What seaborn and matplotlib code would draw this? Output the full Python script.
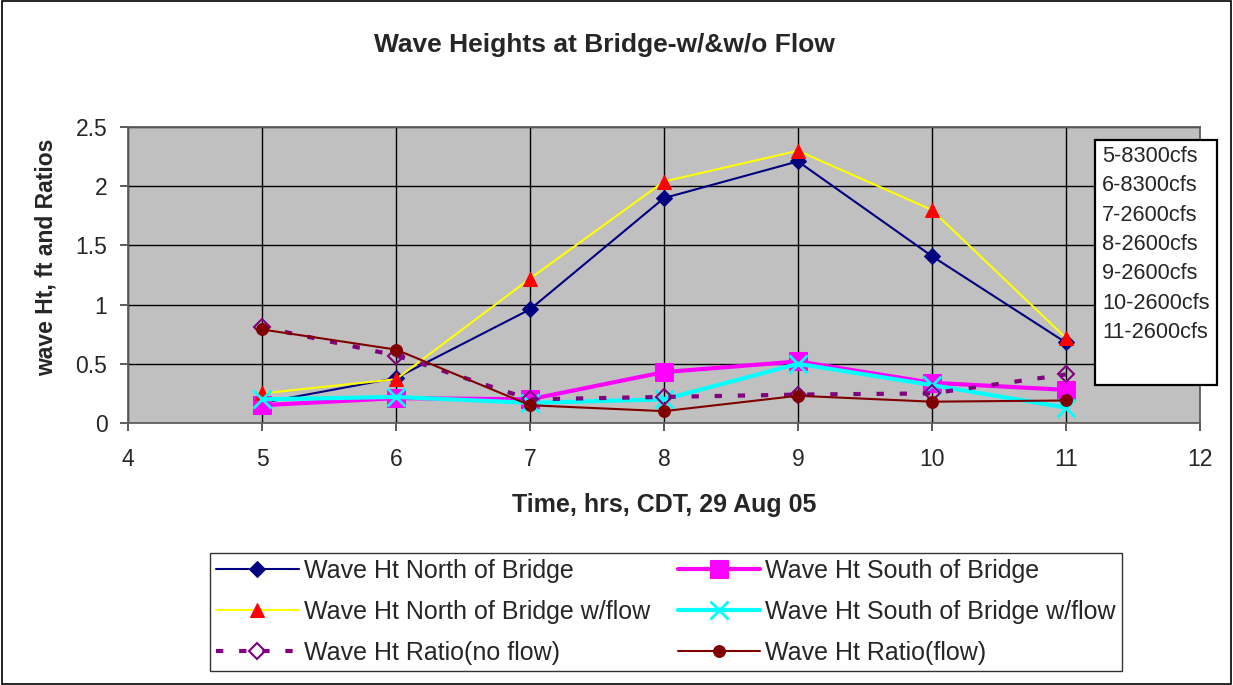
import matplotlib
matplotlib.use("Agg")
import matplotlib.pyplot as plt
import seaborn as sns
import pandas as pd
from matplotlib.patches import Rectangle

hours = [5, 6, 7, 8, 9, 10, 11]
north = [0.17, 0.38, 0.96, 1.90, 2.21, 1.41, 0.68]
south = [0.15, 0.21, 0.20, 0.43, 0.52, 0.34, 0.28]
north_flow = [0.25, 0.37, 1.22, 2.04, 2.30, 1.80, 0.72]
south_flow = [0.20, 0.22, 0.17, 0.20, 0.50, 0.32, 0.13]
ratio_noflow = [0.81, 0.57, 0.20, 0.22, 0.24, 0.25, 0.41]
ratio_flow = [0.79, 0.62, 0.15, 0.10, 0.23, 0.18, 0.19]
flow_notes = ["5-8300cfs", "6-8300cfs", "7-2600cfs", "8-2600cfs",
              "9-2600cfs", "10-2600cfs", "11-2600cfs"]

sns.set_theme(style="white")
plt.rcParams['font.family'] = ['Liberation Sans', 'DejaVu Sans']

fig = plt.figure(figsize=(12.33, 6.85), dpi=100)
fig.patch.set_facecolor("white")
fig.patches.append(Rectangle((0.0015, 0.002), 0.997, 0.996, transform=fig.transFigure,
                             fill=False, edgecolor="black", linewidth=1.2))
ax = fig.add_axes([0.104, 0.3825, 0.869, 0.432])
ax.set_facecolor("#C0C0C0")

series = [
    ("Wave Ht North of Bridge", north, dict(color="#000080", marker="D", markersize=8.5, linewidth=1.5, markerfacecolor="#000080", markeredgecolor="#000080")),
    ("Wave Ht South of Bridge", south, dict(color="#FF00FF", marker="s", markersize=12.5, linewidth=3, markerfacecolor="#FF00FF", markeredgecolor="#FF00FF")),
    ("Wave Ht North of Bridge w/flow", north_flow, dict(color="#FFFF00", marker="^", markersize=10, linewidth=1.5, markerfacecolor="#FF0000", markeredgecolor="#FF0000")),
    ("Wave Ht South of Bridge w/flow", south_flow, dict(color="#00FFFF", marker="x", markersize=13, linewidth=3, markeredgewidth=2, markeredgecolor="#00FFFF")),
    ("Wave Ht Ratio(no flow)", ratio_noflow, dict(color="#800080", marker="D", markersize=8.5, linewidth=3, dashes=(1.75, 3.8), markerfacecolor="none", markeredgecolor="#800080", markeredgewidth=1.5)),
    ("Wave Ht Ratio(flow)", ratio_flow, dict(color="#800000", marker="o", markersize=8.5, linewidth=1.5, markerfacecolor="#800000", markeredgecolor="#800000")),
]

handles = {}
for name, vals, kw in series:
    df = pd.DataFrame({"hour": hours, "value": vals})
    sns.lineplot(data=df, x="hour", y="value", ax=ax, label=name, **kw)
    handles[name] = ax.get_lines()[-1]

ax.set_xlim(4, 12)
ax.set_ylim(0, 2.5)
ax.set_xticks(range(4, 13))
ax.set_yticks([0, 0.5, 1, 1.5, 2, 2.5])
ax.set_yticklabels(["0", "0.5", "1", "1.5", "2", "2.5"])
ax.grid(True, color="black", linewidth=1.0)
ax.set_axisbelow(True)
for s in ax.spines.values():
    s.set_color("#606060")
    s.set_linewidth(1.3)
ax.tick_params(axis="both", labelsize=16.5, direction="out", length=6, color="#404040", width=1.2,
               left=True, bottom=True)
ax.tick_params(axis="x", pad=12)
ax.tick_params(axis="y", pad=9)

ax.set_xlabel("Time, hrs, CDT, 29 Aug 05", fontsize=18, fontweight="bold")
ax.xaxis.set_label_coords(0.5, -0.238)
ax.set_ylabel("wave Ht, ft and Ratios", fontsize=16.5, fontweight="bold")
ax.yaxis.set_label_coords(-0.0655, 0.561)
fig.text(0.490, 0.934, "Wave Heights at Bridge-w/&w/o Flow", ha="center", va="center",
         fontsize=19, fontweight="bold")

order = ["Wave Ht North of Bridge", "Wave Ht North of Bridge w/flow", "Wave Ht Ratio(no flow)",
         "Wave Ht South of Bridge", "Wave Ht South of Bridge w/flow", "Wave Ht Ratio(flow)"]
ax.get_legend().remove()
leg = fig.legend([handles[n] for n in order], order, ncol=2, loc="upper left",
                 bbox_to_anchor=(0.1703, 0.0, 0.7397, 0.193), mode="expand",
                 fontsize=18, frameon=True, fancybox=False, edgecolor="black",
                 handlelength=3.3, borderaxespad=0, borderpad=0.25, labelspacing=0.68,
                 columnspacing=1.0, handletextpad=0.2)
leg.get_frame().set_linewidth(1.0)

fig.patches.append(Rectangle((0.8881, 0.4380), 0.0989, 0.3577, transform=fig.transFigure,
                             facecolor="white", edgecolor="black", linewidth=1.6, zorder=5))
fig.text(0.8937, 0.7875, "\n".join(flow_notes), ha="left", va="top", fontsize=15.7,
         linespacing=1.53, zorder=6)

fig.savefig("out.png", dpi=100)
